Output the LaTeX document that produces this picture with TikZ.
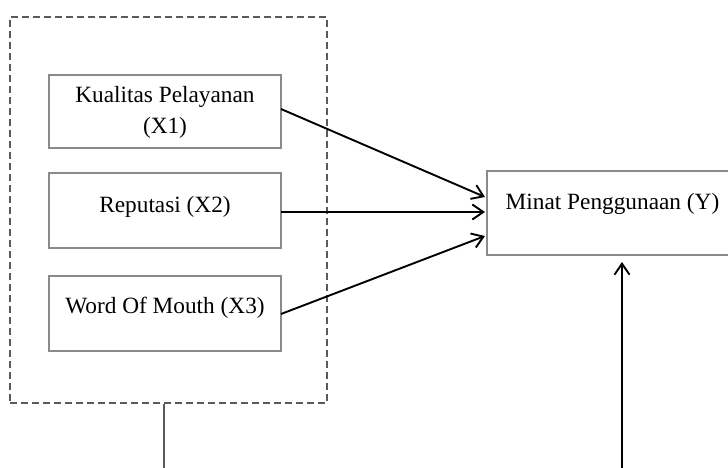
\documentclass[tikz,border=0pt]{standalone}
\usepackage{fontspec}
\setmainfont{Liberation Serif}
\usetikzlibrary{arrows.meta,calc}
\definecolor{boxgray}{HTML}{8A8A8A}
\definecolor{dashgray}{HTML}{5A5A5A}
\begin{document}
\begin{tikzpicture}[x=1pt,y=-1pt,
  varbox/.style={draw=boxgray,line width=1.5pt,rectangle,minimum width=232pt,inner sep=0pt},
  lbl/.style={font=\fontsize{23.3}{31}\selectfont,align=center,inner sep=0pt},
  conn/.style={line width=1.9pt,black,-{Straight Barb[length=11pt,width=15pt,line width=1.9pt]}}]
\useasboundingbox (0,0) rectangle (728,468);
\clip (0,0) rectangle (728,468);
% group box
\node[draw=dashgray,line width=1.7pt,dash pattern=on 7pt off 4pt,rectangle,minimum width=317pt,minimum height=386pt,inner sep=0pt] (grp) at (168.5,210) {};
% variable boxes
\node[varbox,minimum height=73pt] (x1) at (165,111.5) {};
\node[lbl] (t1) at (165,112) {Kualitas Pelayanan\\(X1)};
\node[varbox,minimum height=75pt] (x2) at (165,210.5) {};
\node[lbl] (t2) at (165,207) {Reputasi (X2)};
\node[varbox,minimum height=75pt] (x3) at (165,313.5) {};
\node[lbl] (t3) at (165,308) {Word Of Mouth (X3)};
% dependent box
\node[draw=boxgray,line width=1.5pt,rectangle,minimum width=280pt,minimum height=84pt,inner sep=0pt] (yb) at (627,213) {};
\node[lbl] (ty) at (612.5,204) {Minat Penggunaan (Y)};
% arrow end points
\coordinate (in1) at (485,197);
\coordinate (in2) at (485,212);
\coordinate (in3) at (485,236);
\coordinate (s1) at (281,109);
\coordinate (s2) at (281,212);
\coordinate (s3) at (281,314);
\draw[conn] (s1) -- (in1);
\draw[conn] (s2) -- (in2);
\draw[conn] (s3) -- (in3);
% lines from bottom
\coordinate (gb) at (164,468);
\coordinate (yfoot) at (622,468);
\coordinate (ytip) at (622,262);
\draw[dashgray,line width=1.8pt] (grp.south -| gb) -- (gb);
\draw[conn] (yfoot) -- (ytip);
\end{tikzpicture}
\end{document}
